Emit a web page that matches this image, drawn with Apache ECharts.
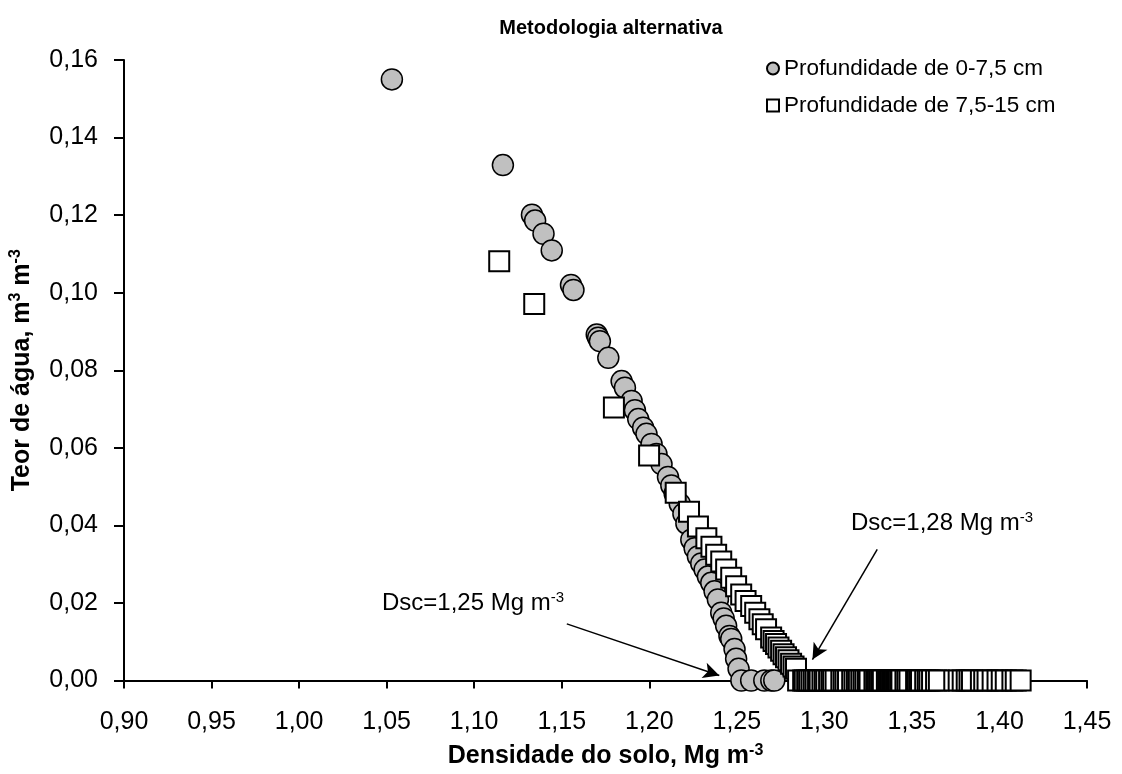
<!DOCTYPE html>
<html>
<head>
<meta charset="utf-8">
<script src="https://cdn.jsdelivr.net/npm/echarts@6/dist/echarts.min.js"></script>
<style>
html,body{margin:0;padding:0;background:#fff;}
#chart{width:1122px;height:774px;}
</style>
</head>
<body>
<div id="chart"></div>
<script>
// Profundidade de 0-7,5 cm
var circleX = [1.053,1.1164,1.133,1.1348,1.1396,1.1443,1.1553,1.1567,1.170,1.1708,1.1718,1.1766,1.1842,1.1861,1.1899,1.1918,1.1937,1.1965,1.1984,1.2013,1.2041,1.2070,1.2107,1.2126,1.2145,1.2174,1.2195,1.2212,1.2240,1.2259,1.2278,1.2297,1.2316,1.2335,1.2354,1.2373,1.2392,1.2411,1.2425,1.2439,1.2458,1.2468,1.2487,1.2496,1.2510,1.2526,1.2582,1.2657,1.2697,1.2714];
var circleY = [0.155,0.1329,0.1201,0.1186,0.1152,0.1109,0.1020,0.1007,0.0892,0.0884,0.0875,0.0832,0.0772,0.0755,0.0721,0.0697,0.0674,0.0652,0.0636,0.0610,0.0584,0.0558,0.0525,0.0503,0.0482,0.0456,0.0430,0.0405,0.0363,0.0341,0.0320,0.0302,0.0286,0.0268,0.0252,0.0230,0.0209,0.0175,0.0160,0.0141,0.0115,0.0107,0.0081,0.0056,0.0030,0,0,0,0,0];

// Profundidade de 7,5-15 cm : sloping part
var squareSlopeX = [1.1143,1.1343,1.1798,1.1999,1.2151,1.2227,1.2278,1.2326,1.2355,1.2382,1.2411,1.2439,1.2468,1.2496,1.2525,1.2550,1.2582,1.2605,1.2629,1.2648,1.2667,1.2696,1.2710,1.2724,1.2738,1.2753,1.2767,1.2781,1.2795,1.2810,1.2824,1.2838];
var squareSlopeY = [0.1081,0.0971,0.0704,0.0580,0.0484,0.0435,0.0397,0.0367,0.0345,0.0324,0.0307,0.0286,0.0265,0.0243,0.0222,0.0205,0.0192,0.0175,0.0158,0.0145,0.0132,0.0111,0.0102,0.0094,0.0085,0.0077,0.0068,0.0060,0.0052,0.0043,0.0036,0.0030];
// Profundidade de 7,5-15 cm : densities where water content is 0
var squareZeroX = [1.2850,1.2879,1.2888,1.2902,1.2913,1.2926,1.2939,1.2950,1.2964,1.2973,1.2989,1.3002,1.3011,1.3027,1.3040,1.3050,1.3064,1.3097,1.3110,1.3121,1.3135,1.3159,1.3172,1.3186,1.3197,1.3211,1.3224,1.3235,1.3249,1.3258,1.3286,1.3296,1.3306,1.3315,1.3324,1.3334,1.3357,1.3364,1.3372,1.3380,1.3387,1.3395,1.3403,1.3410,1.3417,1.3425,1.3433,1.3440,1.3463,1.3474,1.3486,1.3524,1.3533,1.3542,1.3552,1.3576,1.3590,1.3600,1.3615,1.3638,1.3654,1.3742,1.3767,1.3790,1.3813,1.3829,1.3843,1.3894,1.3913,1.3932,1.3961,1.3989,1.4013,1.4036,1.4074,1.4093,1.4121];

var xTicks = {min:0.90, max:1.45, step:0.05};
var yTicks = {min:0, max:0.16, step:0.02};

var seriesNames = ['Profundidade de 0-7,5 cm','Profundidade de 7,5-15 cm'];

function zip(a,b){ return a.map(function(v,i){return [v,b[i]];}); }
var circleData = zip(circleX, circleY);
var squareData = zip(squareSlopeX, squareSlopeY).concat(squareZeroX.map(function(v){return [v,0];}));

var FONT = '"Liberation Sans", Arial, sans-serif';
function comma(v){ return v.toFixed(2).replace('.', ','); }

var titleRich = {
  a:{fontFamily:FONT,fontWeight:'bold',fontSize:25,color:'#000',lineHeight:28},
  s:{fontFamily:FONT,fontWeight:'bold',fontSize:16,color:'#000',verticalAlign:'top',lineHeight:14}
};
var noteRich = {
  a:{fontFamily:FONT,fontSize:24,fill:'#000',lineHeight:26},
  s:{fontFamily:FONT,fontSize:15,fill:'#000',verticalAlign:'top',lineHeight:14}
};

var chart = echarts.init(document.getElementById('chart'), null, {renderer:'canvas'});
chart.setOption({
  animation:false,
  backgroundColor:'#fff',
  textStyle:{fontFamily:FONT, color:'#000'},
  title:{
    text:'Metodologia alternativa',
    left:606, top:13, textAlign:'center',
    textStyle:{fontFamily:FONT, fontWeight:'bold', fontSize:20, color:'#000'}
  },
  legend:{
    orient:'vertical', left:761, top:52,
    itemWidth:12, itemHeight:12, itemGap:14,
    textStyle:{fontFamily:FONT, fontSize:22.5, color:'#000', padding:[0,0,0,0]},
    data:[{name:seriesNames[0], icon:'circle'},{name:seriesNames[1], icon:'rect'}]
  },
  grid:{left:121, right:35, top:60, bottom:89, containLabel:false},
  xAxis:{
    type:'value', min:xTicks.min, max:xTicks.max, interval:xTicks.step,
    name:'{a|Densidade do solo, Mg m}{s|-3}', nameLocation:'middle', nameGap:62,
    nameTextStyle:{rich:titleRich},
    axisLine:{show:true, onZero:false, lineStyle:{color:'#000', width:2}},
    axisTick:{show:true, inside:false, length:8, lineStyle:{color:'#000', width:2}},
    axisLabel:{fontFamily:FONT, fontSize:25, color:'#000', margin:29, formatter:comma},
    splitLine:{show:false}
  },
  yAxis:{
    type:'value', min:yTicks.min, max:yTicks.max, interval:yTicks.step,
    name:'{a|Teor de água, m}{s|3}{a| m}{s|-3}', nameLocation:'middle', nameGap:88, nameRotate:90,
    nameTextStyle:{rich:titleRich},
    axisLine:{show:true, lineStyle:{color:'#000', width:2}},
    axisTick:{show:true, inside:false, length:10, lineStyle:{color:'#000', width:2}},
    axisLabel:{fontFamily:FONT, fontSize:25, color:'#000', margin:26, formatter:comma},
    splitLine:{show:false}
  },
  series:[
    {
      name:seriesNames[0], type:'scatter', symbol:'circle', symbolSize:21,
      itemStyle:{color:'#C0C0C0', borderColor:'#000', borderWidth:1.5, opacity:1},
      data:circleData, z:2,
      markLine:{
        silent:true, animation:false,
        lineStyle:{color:'#000', width:1.5, type:'solid'},
        symbol:['none','arrow'], symbolSize:[12,16],
        label:{show:false},
        data:[
          [{coord:[1.1529,0.0146]},{coord:[1.2400,0.0013]}],
          [{coord:[1.3302,0.0338]},{coord:[1.2932,0.0054]}]
        ]
      }
    },
    {
      name:seriesNames[1], type:'scatter', symbol:'rect', symbolSize:20,
      itemStyle:{color:'#FFFFFF', borderColor:'#000', borderWidth:2, opacity:1},
      data:squareData, z:3
    }
  ],
  graphic:[
    {type:'text', x:382, y:603, z:10, style:{
      text:'{a|Dsc=1,25 Mg m}{s|-3}', verticalAlign:'middle', align:'left', rich:noteRich}},
    {type:'text', x:851, y:523, z:10, style:{
      text:'{a|Dsc=1,28 Mg m}{s|-3}', verticalAlign:'middle', align:'left', rich:noteRich}}
  ]
});
</script>
</body>
</html>
